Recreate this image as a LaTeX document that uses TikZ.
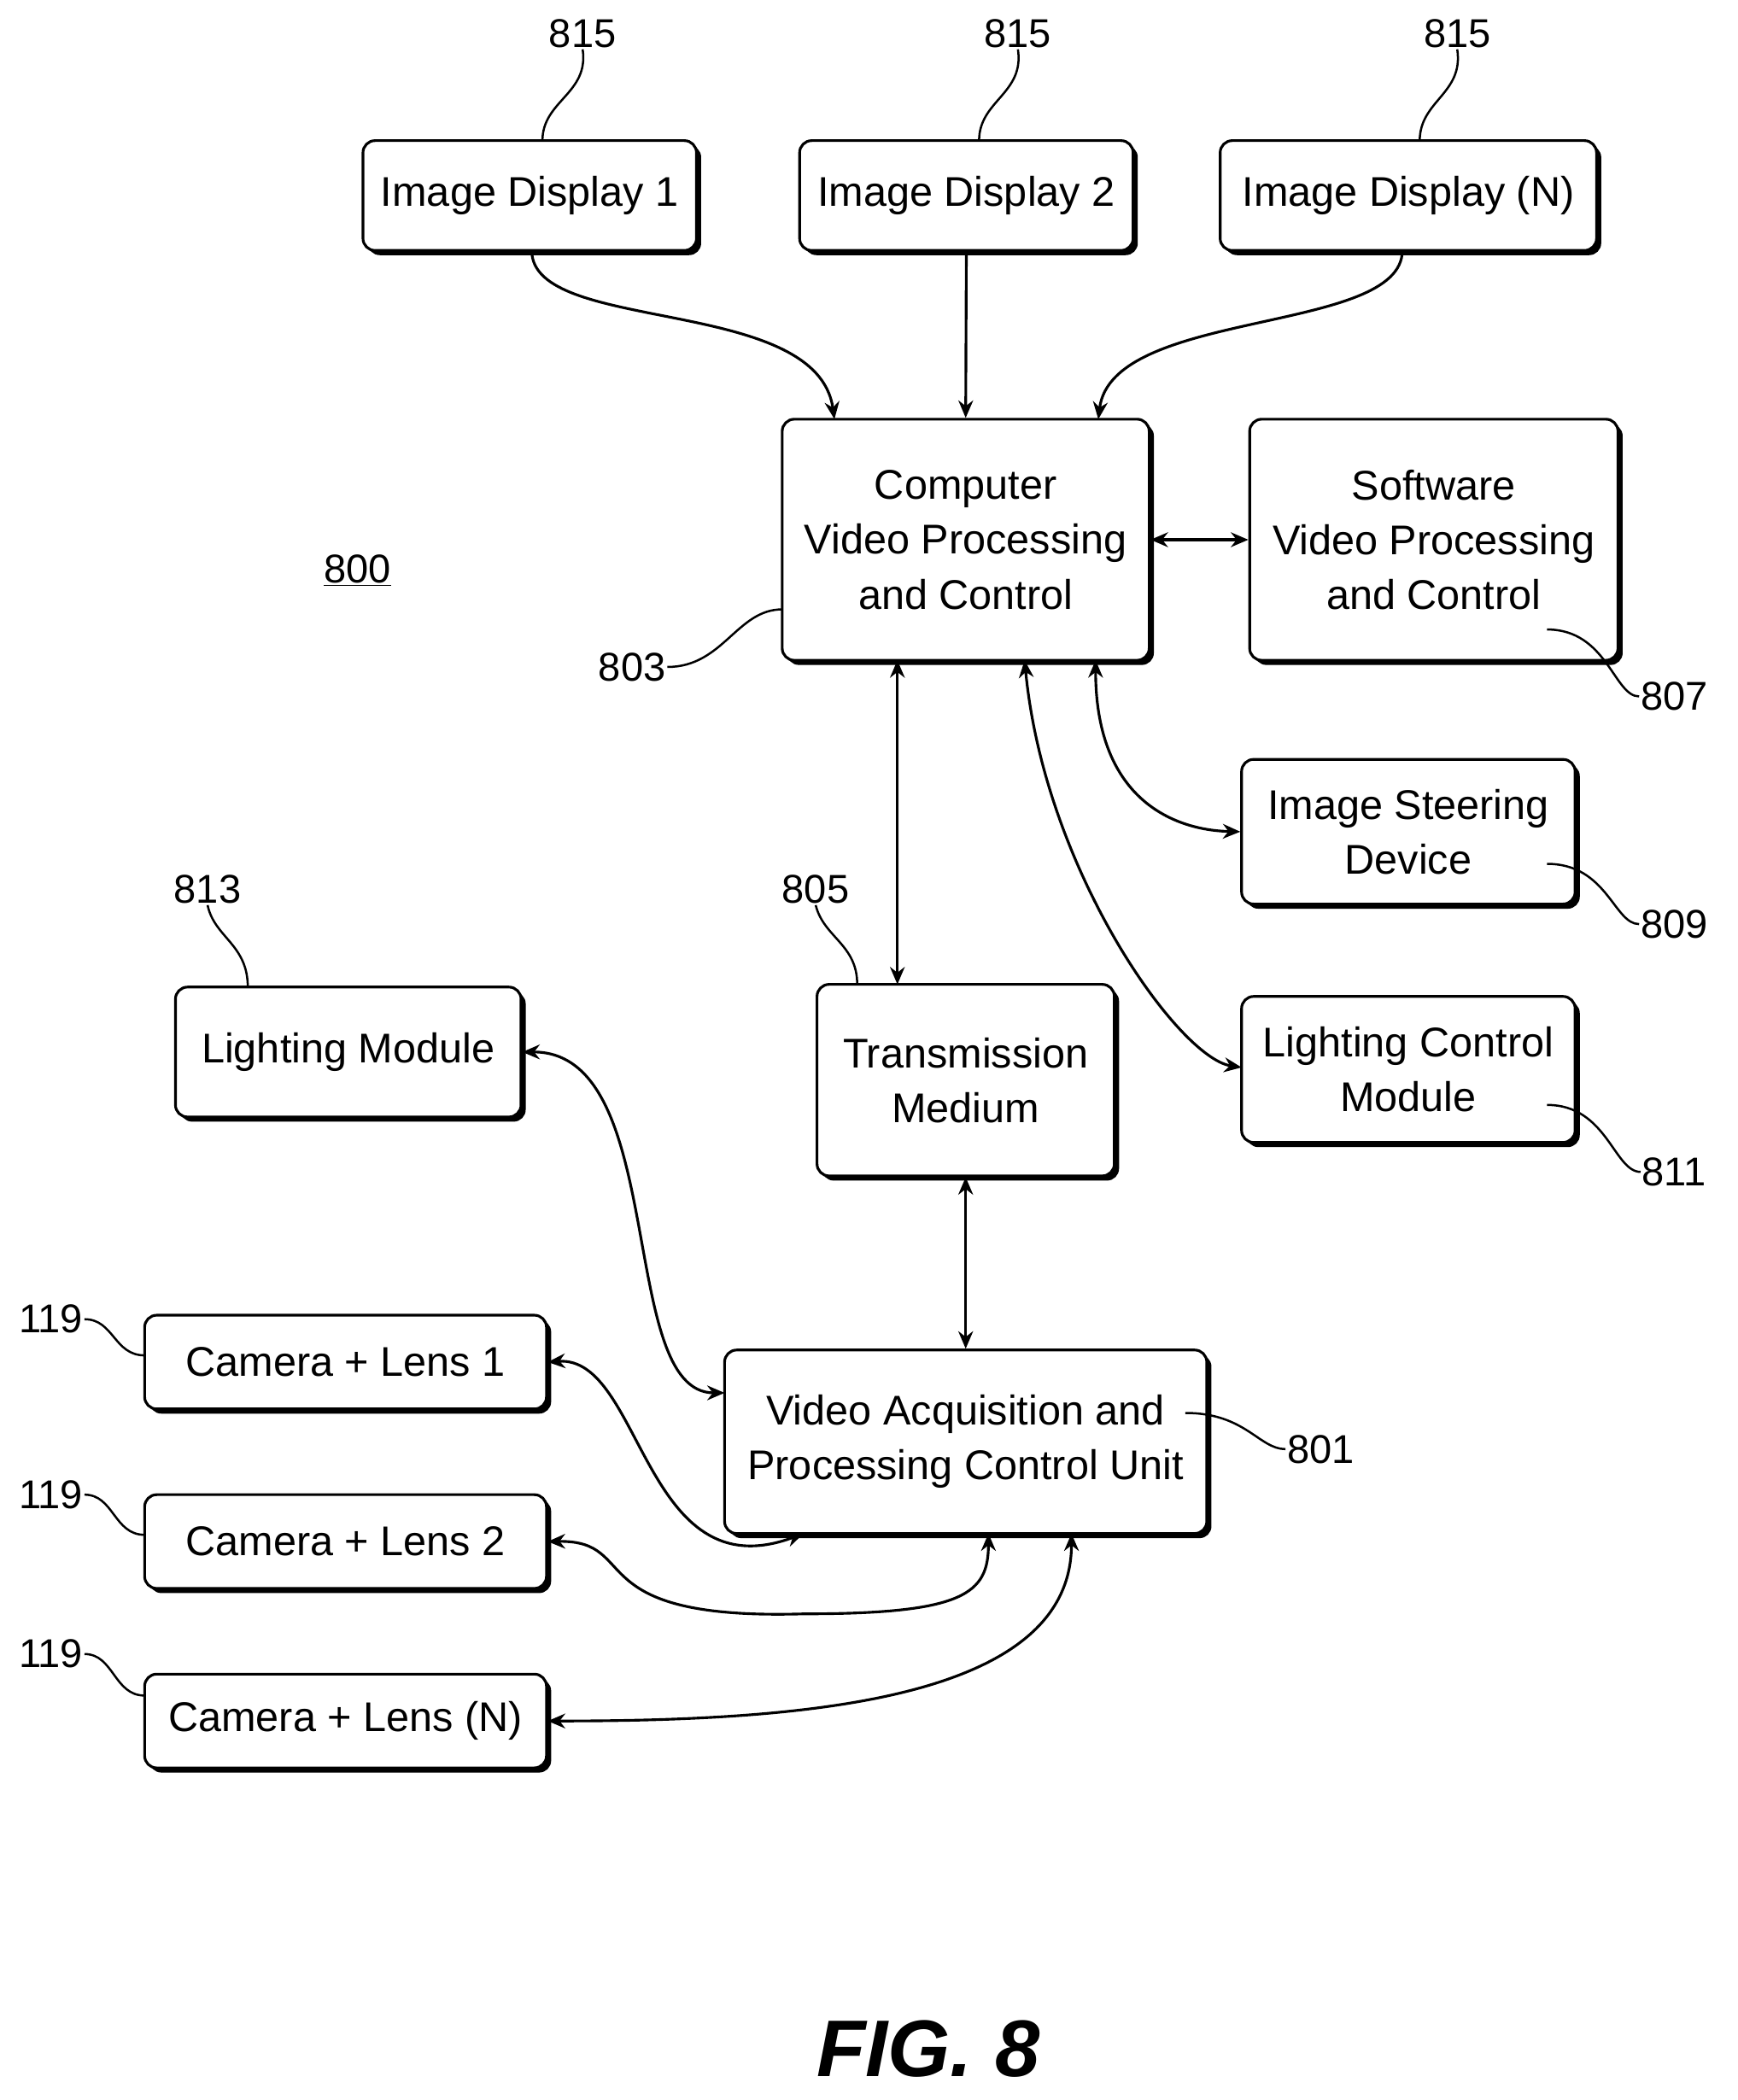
\documentclass[tikz,border=0pt]{standalone}
\usepackage{fontspec}
\setmainfont{Liberation Sans}
\usetikzlibrary{shadows,arrows.meta}
\begin{document}
\begin{tikzpicture}[x=1pt,y=-1pt,
 box/.style={draw,line width=2pt,rounded corners=9pt,fill=white,align=center,
   drop shadow={shadow xshift=3.5pt,shadow yshift=-3.5pt,fill=black,opacity=1},
   font=\fontsize{31}{41}\selectfont,inner sep=0pt},
 lab/.style={font=\fontsize{30}{34}\selectfont,inner sep=1pt},
 con/.style={line width=2pt,{Stealth[length=13pt,width=11pt]}-{Stealth[length=13pt,width=11pt]}},
 one/.style={line width=2pt,-{Stealth[length=13pt,width=11pt]}},
 lead/.style={line width=1.6pt}]
\useasboundingbox (0,0) rectangle (1297,1568);
\def\bx#1#2#3#4#5#6{\node[box,minimum width=#4-#2,minimum height=#5-#3] (#1) at ({(#2+#4)/2},{(#3+#5)/2}) {#6};}
\bx{d1}{271}{105}{520}{187}{Image Display 1}
\bx{d2}{597}{105}{846}{187}{Image Display 2}
\bx{dn}{911}{105}{1192}{187}{Image Display (N)}
\bx{cv}{584}{313}{858}{493}{Computer\\Video Processing\\and Control}
\bx{sv}{933}{313}{1208}{493}{Software\\Video Processing\\and Control}
\bx{is}{927}{567}{1176}{675}{Image Steering\\Device}
\bx{lc}{927}{744}{1176}{853}{Lighting Control\\Module}
\bx{tm}{610}{735}{832}{878}{Transmission\\Medium}
\bx{lm}{131}{737}{389}{834}{Lighting Module}
\bx{va}{541}{1008}{901}{1145}{Video Acquisition and\\Processing Control Unit}
\bx{c1}{108}{982}{408}{1052}{Camera + Lens 1}
\bx{c2}{108}{1116}{408}{1186}{Camera + Lens 2}
\bx{cn}{108}{1250}{408}{1320}{Camera + Lens (N)}
% labels
\node[lab] (l1) at (435,25) {815};
\node[lab] (l2) at (760,25) {815};
\node[lab] (l3) at (1088,25) {815};
\node[lab] (l800) at (267,426) {\underline{800}};
\node[lab] (l803) at (472,498) {803};
\node[lab] (l807) at (1250,520) {807};
\node[lab] (l809) at (1250,690) {809};
\node[lab] (l805) at (609,664) {805};
\node[lab] (l813) at (155,664) {813};
\node[lab] (l811) at (1250,875) {811};
\node[lab] (l801) at (986,1082) {801};
\node[lab] (a1) at (38,985) {119};
\node[lab] (a2) at (38,1116) {119};
\node[lab] (a3) at (38,1235) {119};
\node[font=\fontsize{60}{70}\selectfont\bfseries\itshape] (fig) at (693,1530) {FIG. 8};
% leaders
\coordinate (p1) at (405,105); \coordinate (p2) at (731,105); \coordinate (p3) at (1060,105);
\draw[lead] (l1.south) .. controls (440,70) and (405,75) .. (p1);
\draw[lead] (l2.south) .. controls (765,70) and (731,75) .. (p2);
\draw[lead] (l3.south) .. controls (1093,70) and (1060,75) .. (p3);
\coordinate (p803) at (584,455);
\draw[lead] (l803.east) .. controls (540,498) and (550,455) .. (p803);
\coordinate (p807) at (1155,470);
\draw[lead] (l807.west) .. controls (1205,520) and (1200,470) .. (p807);
\coordinate (p809) at (1155,645);
\draw[lead] (l809.west) .. controls (1205,690) and (1200,645) .. (p809);
\coordinate (p811) at (1155,825);
\draw[lead] (l811.west) .. controls (1205,875) and (1200,825) .. (p811);
\coordinate (p805) at (640,735);
\draw[lead] (l805.south) .. controls (615,700) and (640,705) .. (p805);
\coordinate (p813) at (185,737);
\draw[lead] (l813.south) .. controls (160,700) and (185,705) .. (p813);
\coordinate (p801) at (885,1055);
\draw[lead] (l801.west) .. controls (940,1082) and (930,1055) .. (p801);
\coordinate (q1) at (108,1012); \coordinate (q2) at (108,1146); \coordinate (q3) at (108,1266);
\draw[lead] (a1.east) .. controls (85,985) and (85,1012) .. (q1);
\draw[lead] (a2.east) .. controls (85,1116) and (85,1146) .. (q2);
\draw[lead] (a3.east) .. controls (85,1235) and (85,1266) .. (q3);
% connectors
\coordinate (t1) at (623,313); \coordinate (t3) at (820,313);
\draw[one] (397,187) .. controls (397,250) and (610,220) .. (t1);
\draw[one] (d2.south) -- (cv.north);
\draw[one] (1047,187) .. controls (1047,250) and (830,230) .. (t3);
\draw[con] (cv.east) -- (sv.west);
\draw[con] (670,493) -- (670,735);
\draw[con] (818,493) .. controls (818,600) and (880,620) .. (is.west);
\draw[con] (765,493) .. controls (780,650) and (880,790) .. (927,797);
\draw[con] (tm.south) -- (va.north);
\draw[con] (lm.east) .. controls (500,785) and (460,1040) .. (541,1040);
\draw[con] (c1.east) .. controls (480,1012) and (480,1190) .. (600,1145);
\draw[con] (c2.east) .. controls (480,1150) and (430,1210) .. (600,1205) .. controls (720,1205) and (738,1190) .. (738,1145);
\draw[con] (cn.east) .. controls (600,1285) and (800,1270) .. (800,1145);
\end{tikzpicture}
\end{document}
